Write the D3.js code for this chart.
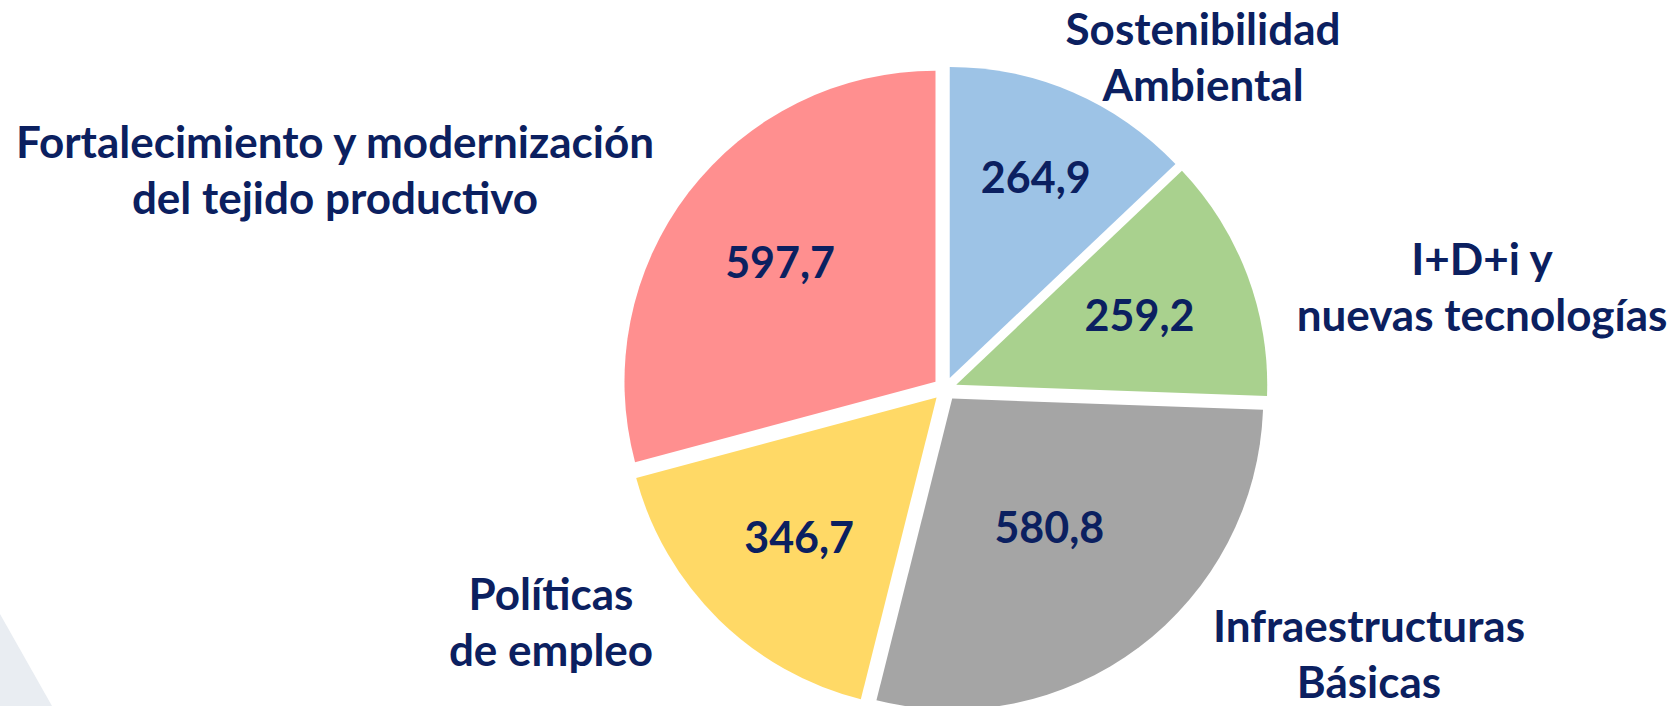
<!DOCTYPE html>
<html>
<head>
<meta charset="utf-8">
<script src="https://cdn.jsdelivr.net/npm/d3@7"></script>
<style>
  html, body { margin: 0; padding: 0; background: #ffffff; }
  svg { display: block; }
</style>
</head>
<body>
<div id="chart"></div>
<script>
// slices, clockwise from 12 o'clock
const categories = ['Sostenibilidad Ambiental', 'I+D+i y nuevas tecnologías', 'Infraestructuras Básicas', 'Políticas de empleo', 'Fortalecimiento y modernización del tejido productivo'];
const values = [264.9, 259.2, 580.8, 346.7, 597.7];
const labelLines = [
    ['Sostenibilidad', 'Ambiental'],
    ['I+D+i y', 'nuevas tecnologías'],
    ['Infraestructuras', 'Básicas'],
    ['Políticas', 'de empleo'],
    ['Fortalecimiento y modernización', 'del tejido productivo']
];
const colors = ['#9DC3E6', '#A9D18E', '#A5A5A5', '#FFD966', '#FF8F8F'];

const width = 1677, height = 706;
const cx = 945, cy = 389, radius = 311, explode = 12;
const textColor = '#0B2060';
const fontFamily = 'Lato, "Open Sans", sans-serif';
const lineHeight = 56;

// value label distance from centre (fraction of radius), per slice
const valueRadius = [0.70, 0.63, 0.52, 0.63, 0.63];
// category label anchors relative to the pie centre (first baseline)
const labelOffsets = [[258, -344], [537, -114], [424, 253], [-394, 221], [-610, -231]];

const fmt = d3.formatLocale({decimal: ',', thousands: '.', grouping: [3], currency: ['', '€']}).format('.1f');

const svg = d3.select('#chart')
    .append('svg')
    .attr('width', width)
    .attr('height', height);

// faint background shape, bottom left
svg.append('path')
    .attr('d', `M0,${height - 92} L52,${height} L0,${height} Z`)
    .attr('fill', '#E9EDF2');

const pie = d3.pie().sort(null).value(d => d)(values);
const arc = d3.arc().innerRadius(0).outerRadius(radius);

const g = svg.append('g')
    .attr('transform', `translate(${cx},${cy})`);

const slices = g.selectAll('.slice')
    .data(pie)
    .enter()
    .append('g')
    .attr('class', 'slice')
    .attr('transform', d => {
        const a = (d.startAngle + d.endAngle) / 2;
        return `translate(${Math.sin(a) * explode},${-Math.cos(a) * explode})`;
    });

slices.append('path')
    .attr('d', arc)
    .attr('fill', (d, i) => colors[i]);

slices.append('text')
    .attr('x', (d, i) => Math.sin((d.startAngle + d.endAngle) / 2) * radius * valueRadius[i])
    .attr('y', (d, i) => -Math.cos((d.startAngle + d.endAngle) / 2) * radius * valueRadius[i])
    .attr('dy', '0.36em')
    .attr('text-anchor', 'middle')
    .style('font-family', fontFamily)
    .style('font-weight', 'bold')
    .style('font-size', '43px')
    .style('fill', textColor)
    .text(d => fmt(d.value));

// category labels outside the pie
labelLines.forEach((lines, i) => {
    const t = g.append('text')
        .attr('text-anchor', 'middle')
        .style('font-family', fontFamily)
        .style('font-weight', 'bold')
        .style('font-size', '44px')
        .style('fill', textColor);
    lines.forEach((line, j) => {
        t.append('tspan')
            .attr('x', labelOffsets[i][0])
            .attr('y', labelOffsets[i][1] + j * lineHeight)
            .text(line);
    });
});
</script>
</body>
</html>
